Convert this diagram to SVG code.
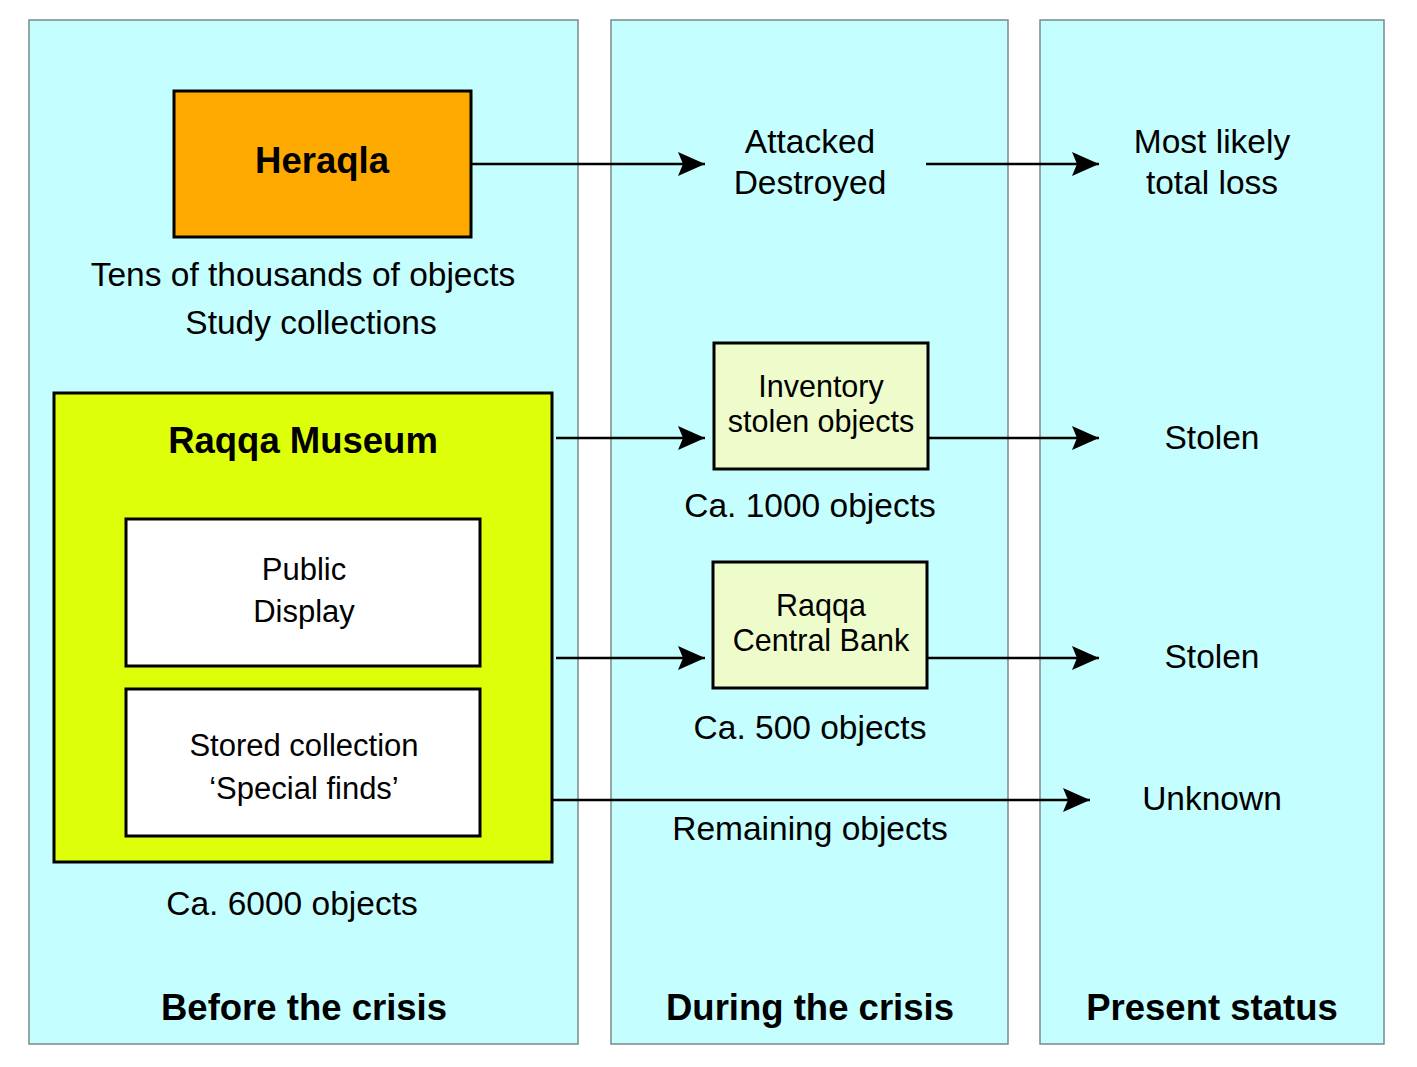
<svg xmlns="http://www.w3.org/2000/svg" width="1417" height="1067" viewBox="0 0 1417 1067">
<style>
.col{fill:#C4FEFE;stroke:#7A8A8A;stroke-width:1.5}
.box{stroke:#000;stroke-width:3}
.t{font-family:"Liberation Sans",Arial,sans-serif;fill:#000;text-anchor:middle}
.b{font-weight:bold}
.conn{stroke:#000;stroke-width:2.5;fill:none;marker-end:url(#ah)}
</style>
<defs>
<marker id="ah" markerUnits="userSpaceOnUse" markerWidth="28" markerHeight="26" refX="27" refY="12" orient="auto" viewBox="0 0 28 24">
<path d="M0,0 L27,12 L0,24 L5,12 z" fill="#000"/>
</marker>
</defs>
<rect width="1417" height="1067" fill="#fff"/>
<g id="columns">
<rect class="col" x="29" y="20" width="549" height="1024"/>
<rect class="col" x="611" y="20" width="397" height="1024"/>
<rect class="col" x="1040" y="20" width="344" height="1024"/>
<text class="t b" x="304" y="1020" font-size="36.5">Before the crisis</text>
<text class="t b" x="810" y="1020" font-size="36.5">During the crisis</text>
<text class="t b" x="1212" y="1020" font-size="36.5">Present status</text>
</g>
<g id="connectors">
<line class="conn" x1="471" y1="164" x2="705" y2="164"/>
<line class="conn" x1="926" y1="164" x2="1099" y2="164"/>
<line class="conn" x1="556" y1="438" x2="705" y2="438"/>
<line class="conn" x1="928" y1="438" x2="1099" y2="438"/>
<line class="conn" x1="556" y1="658" x2="705" y2="658"/>
<line class="conn" x1="927" y1="658" x2="1099" y2="658"/>
<line class="conn" x1="552" y1="800" x2="1090" y2="800"/>
</g>
<g id="heraqla">
<rect class="box" x="174" y="91" width="297" height="146" fill="#FFAA00"/>
<text class="t b" x="322" y="173" font-size="36.5">Heraqla</text>
</g>
<g id="heraqla-note">
<text class="t" x="303" y="286" font-size="33.5">Tens of thousands of objects</text>
<text class="t" x="311" y="334" font-size="33.5">Study collections</text>
</g>
<g id="attacked">
<text class="t" x="810" y="153" font-size="33.5">Attacked</text>
<text class="t" x="810" y="194" font-size="33.5">Destroyed</text>
</g>
<g id="total-loss">
<text class="t" x="1212" y="153" font-size="33.5">Most likely</text>
<text class="t" x="1212" y="194" font-size="33.5">total loss</text>
</g>
<g id="raqqa-museum">
<rect class="box" x="54" y="393" width="498" height="469" fill="#DDFF0A"/>
<text class="t b" x="303" y="453" font-size="36.5">Raqqa Museum</text>
</g>
<g id="public-display">
<rect class="box" x="126" y="519" width="354" height="147" fill="#fff"/>
<text class="t" x="304" y="580" font-size="31">Public</text>
<text class="t" x="304" y="622" font-size="31">Display</text>
</g>
<g id="stored-collection">
<rect class="box" x="126" y="689" width="354" height="147" fill="#fff"/>
<text class="t" x="304" y="756" font-size="31">Stored collection</text>
<text class="t" x="304" y="799" font-size="31">‘Special finds’</text>
</g>
<g id="museum-note">
<text class="t" x="292" y="915" font-size="33.5">Ca. 6000 objects</text>
</g>
<g id="inventory">
<rect class="box" x="714" y="343" width="214" height="126" fill="#EEFCCB"/>
<text class="t" x="821" y="397" font-size="30.5">Inventory</text>
<text class="t" x="821" y="432" font-size="30.5">stolen objects</text>
</g>
<g id="inventory-note">
<text class="t" x="810" y="517" font-size="33.5">Ca. 1000 objects</text>
</g>
<g id="central-bank">
<rect class="box" x="713" y="562" width="214" height="126" fill="#EEFCCB"/>
<text class="t" x="821" y="616" font-size="30.5">Raqqa</text>
<text class="t" x="821" y="651" font-size="30.5">Central Bank</text>
</g>
<g id="bank-note">
<text class="t" x="810" y="739" font-size="33.5">Ca. 500 objects</text>
</g>
<g id="stolen-1"><text class="t" x="1212" y="449" font-size="33.5">Stolen</text></g>
<g id="stolen-2"><text class="t" x="1212" y="668" font-size="33.5">Stolen</text></g>
<g id="unknown"><text class="t" x="1212" y="810" font-size="33.5">Unknown</text></g>
<g id="remaining"><text class="t" x="810" y="840" font-size="33.5">Remaining objects</text></g>
</svg>
